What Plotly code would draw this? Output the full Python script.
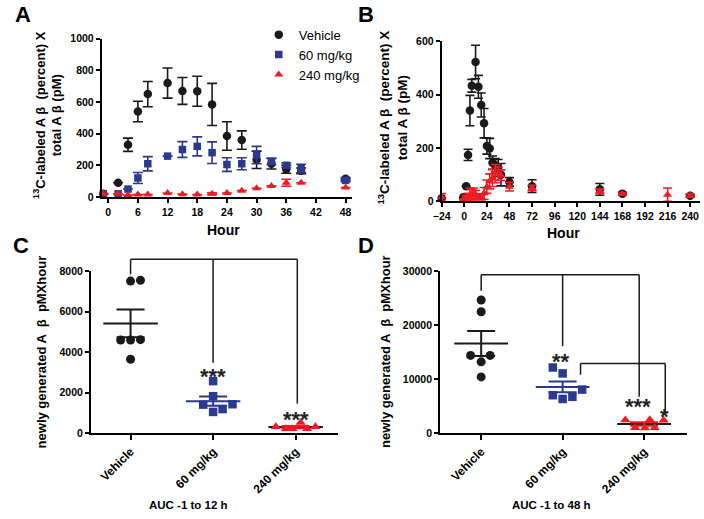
import numpy as np
import plotly.graph_objects as go

F = "Liberation Sans, Arial, sans-serif"
BLACK = "#1a1a1a"
BLUE = "#2b3990"
RED = "#ed1c24"
W, H = 704, 519

# ---------------- Panel A data ----------------
hours_a = [-1, 2, 4, 6, 8, 12, 15, 18, 21, 24, 27, 30, 33, 36, 39, 48]
veh_a = [20, 90, 330, 540, 650, 720, 670, 668, 585, 385, 360, 235, 210, 175, 165, 115]
veh_a_err = [None, None, 42, 65, 80, 95, 85, 95, 133, 90, 58, 55, 33, 25, 18, 8]
mg60_a = [20, 20, 50, 120, 210, 258, 300, 320, 280, 205, 210, 265, 225, 200, 180, 105]
mg60_a_err = [None, None, None, 35, 45, None, 50, 60, 68, 43, 38, 55, 20, 15, 27, 8]
mg240_a = [20, 20, 12, 15, 15, 25, 18, 15, 20, 25, 40, 55, 70, 90, 90, 60]
mg240_a_err = [None, None, None, None, None, None, None, None, 6, None, None, None, None, 22, None, None]

# ---------------- Panel B data ----------------
hours_b_veh = [-24, -1, 2, 4, 6, 8, 12, 15, 18, 21, 24, 27, 30, 33, 36, 39, 48, 72, 144, 168, 240]
veh_b = [12, 15, 57, 174, 340, 433, 522, 429, 361, 293, 207, 198, 145, 135, 125, 100, 73, 57, 45, 29, 21]
veh_b_err = [None, None, None, 21, 57, 24, 63, 43, 45, 55, 30, 38, 25, 25, 32, 42, 16, 24, 22, 5, 4]
hours_b_240 = [-24, -1, 2, 4, 6, 8, 10, 12, 15, 18, 21, 24, 27, 30, 33, 36, 39, 48, 72, 144, 168, 216, 240]
mg240_b = [15, 8, 14, 18, 22, 25, 28, 26, 18, 15, 30, 55, 75, 88, 104, 104, 98, 55, 50, 38, 28, 25, 22]
mg240_b_err = [14, None, 8, 12, 28, 20, 22, 15, 10, 10, 22, 25, 28, 32, 34, 25, 20, 16, 10, 8, 5, 25, 6]

# ---------------- Panels C / D data ----------------
groups = ["Vehicle", "60 mg/kg", "240 mg/kg"]
c_veh = [7520, 7560, 4600, 4600, 4620, 3650]
c_60 = [2565, 1820, 1400, 1420, 1040, 1180]
c_240 = [300, 200, 200, 520, 200, 300]
d_veh = [24700, 22500, 14400, 14400, 13200, 10400]
d_60 = [12150, 11050, 8050, 7000, 6300, 6700]
d_240 = [2400, 2450, 2350, 950, 900, 950]

# horizontal scatter (jitter) offsets of the dots, styling only
c_jit = [[0, 0.12, -0.12, 0, 0.12, 0],
         [0, 0, -0.12, 0.235, 0, 0.115],
         [-0.24, -0.12, -0.04, 0.06, 0.14, 0.24]]
d_jit = [[0, 0, -0.13, 0.11, 0, 0],
         [-0.12, 0, 0.24, -0.12, 0, 0.12],
         [-0.23, 0.07, 0.24, -0.11, 0.01, 0.13]]

# ---------------- layout geometry (pixels) ----------------
dom = {
    "A": dict(x=(94, 347), y=(33.5, 195.5), xr=(-1.3, 49.2), yr=(0, 1000)),
    "B": dict(x=(438.3, 700), y=(36, 200), xr=(-24, 250.5), yr=(0, 600)),
    "C": dict(x=(83, 333), y=(271.7, 437), xr=(-0.48, 2.51), yr=(0, 8000)),
    "D": dict(x=(436.7, 686.7), y=(271.7, 437), xr=(-0.504, 2.526), yr=(0, 30000)),
}


def xdom(p):
    return [dom[p]["x"][0] / W, dom[p]["x"][1] / W]


def ydom(p):
    return [1 - dom[p]["y"][1] / H, 1 - dom[p]["y"][0] / H]


def data2paper(p, xv, yv):
    d = dom[p]
    fx = (xv - d["xr"][0]) / (d["xr"][1] - d["xr"][0])
    fy = (yv - d["yr"][0]) / (d["yr"][1] - d["yr"][0])
    X0, X1 = xdom(p)
    Y0, Y1 = ydom(p)
    return X0 + fx * (X1 - X0), Y0 + fy * (Y1 - Y0)


fig = go.Figure()


def err(arr, color, w):
    return dict(type="data", array=arr, visible=True, color=color, thickness=1.6, width=w)


# ---- Panel A ----
fig.add_trace(go.Scatter(x=hours_a, y=veh_a, mode="markers", name="Vehicle",
                         marker=dict(symbol="circle", size=8.5, color=BLACK),
                         error_y=err(veh_a_err, BLACK, 5), cliponaxis=False,
                         xaxis="x", yaxis="y"))
fig.add_trace(go.Scatter(x=hours_a, y=mg60_a, mode="markers", name="60 mg/kg",
                         marker=dict(symbol="square", size=7.5, color=BLUE),
                         error_y=err(mg60_a_err, BLUE, 5), cliponaxis=False,
                         xaxis="x", yaxis="y"))
fig.add_trace(go.Scatter(x=hours_a, y=mg240_a, mode="markers", name="240 mg/kg",
                         marker=dict(symbol="triangle-up", size=8, color=RED),
                         error_y=err(mg240_a_err, RED, 5), cliponaxis=False,
                         xaxis="x", yaxis="y"))

# ---- Panel B ----
fig.add_trace(go.Scatter(x=hours_b_veh, y=veh_b, mode="markers", showlegend=False,
                         marker=dict(symbol="circle", size=8.5, color=BLACK),
                         error_y=err(veh_b_err, BLACK, 4.5), cliponaxis=False,
                         xaxis="x2", yaxis="y2"))
fig.add_trace(go.Scatter(x=hours_b_240, y=mg240_b, mode="markers", showlegend=False,
                         marker=dict(symbol="triangle-up", size=8, color=RED),
                         error_y=err(mg240_b_err, RED, 4.5), cliponaxis=False,
                         xaxis="x2", yaxis="y2"))

# ---- Panels C and D ----
syms = ["circle", "square", "triangle-up"]
cols = [BLACK, BLUE, RED]
mean_cols = [BLACK, BLUE, BLACK]
sizes = [9, 8.5, 9]
for p, ax, vals_list, jit in [("C", "3", [c_veh, c_60, c_240], c_jit),
                              ("D", "4", [d_veh, d_60, d_240], d_jit)]:
    for i, vals in enumerate(vals_list):
        v = np.array(vals, dtype=float)
        m = v.mean()
        sem = v.std(ddof=1) / np.sqrt(len(v))
        fig.add_trace(go.Scatter(x=[i - 0.33, i + 0.33], y=[m, m], mode="lines",
                                 line=dict(color=mean_cols[i], width=2), showlegend=False,
                                 xaxis="x" + ax, yaxis="y" + ax))
        fig.add_trace(go.Scatter(x=[i + j for j in jit[i]], y=vals, mode="markers",
                                 marker=dict(symbol=syms[i], size=sizes[i], color=cols[i]),
                                 showlegend=False, cliponaxis=False,
                                 xaxis="x" + ax, yaxis="y" + ax))
        fig.add_trace(go.Scatter(x=[i], y=[m], mode="markers",
                                 marker=dict(size=1, opacity=0), showlegend=False,
                                 error_y=dict(type="data", array=[sem], visible=True,
                                              color=cols[i], thickness=2, width=14),
                                 cliponaxis=False, xaxis="x" + ax, yaxis="y" + ax))

# ---------------- axes ----------------
tickfont = dict(family=F, size=10.5, color="black", weight="bold")
cat_tickfont = dict(family=F, size=12, color="black", weight="bold")


def axis(p, which, **kw):
    d = dict(showline=True, linewidth=2, linecolor="black", ticks="outside", ticklen=4,
             tickwidth=1.5, tickcolor="black", showgrid=False, zeroline=False,
             tickfont=tickfont, fixedrange=True, tickformat="d")
    if which == "x":
        d.update(domain=xdom(p), range=list(dom[p]["xr"]))
    else:
        d.update(domain=ydom(p), range=list(dom[p]["yr"]))
    d.update(kw)
    return d


layout = dict(
    width=W, height=H, margin=dict(l=0, r=0, t=0, b=0),
    paper_bgcolor="white", plot_bgcolor="white",
    font=dict(family=F, color="black"),
    xaxis=axis("A", "x", anchor="y", tickvals=list(range(0, 49, 6))),
    yaxis=axis("A", "y", anchor="x", tickvals=list(range(0, 1001, 200))),
    xaxis2=axis("B", "x", anchor="y2", tickvals=list(range(-24, 241, 24))),
    yaxis2=axis("B", "y", anchor="x2", tickvals=[0, 200, 400, 600]),
    xaxis3=axis("C", "x", anchor="y3", tickvals=[0, 1, 2], ticktext=groups, tickangle=-45,
                tickfont=cat_tickfont, ticklen=5),
    yaxis3=axis("C", "y", anchor="x3", tickvals=list(range(0, 8001, 2000))),
    xaxis4=axis("D", "x", anchor="y4", tickvals=[0, 1, 2], ticktext=groups, tickangle=-45,
                tickfont=cat_tickfont, ticklen=5),
    yaxis4=axis("D", "y", anchor="x4", tickvals=[0, 10000, 20000, 30000]),
    legend=dict(x=253 / W, y=1 - 14 / H, xanchor="left", yanchor="top",
                font=dict(family=F, size=13, color="black"), bgcolor="rgba(0,0,0,0)",
                tracegroupgap=0),
    showlegend=True,
)
fig.update_layout(**layout)

# ---------------- annotations (text) ----------------
ann = []


def txt(x, y, s, size, bold=True, angle=0, **kw):
    a = dict(x=x / W, y=1 - y / H, xref="paper", yref="paper", text=s, showarrow=False,
             textangle=angle, xanchor="center", yanchor="middle",
             font=dict(family=F, size=size, color="black", weight="bold" if bold else "normal"))
    a.update(kw)
    ann.append(a)


for letter, (lx, ly) in {"A": (14, 9), "B": (362, 9), "C": (12, 245), "D": (362, 245)}.items():
    txt(lx, ly, letter, 22)

ytitle_ab = "<sup>13</sup>C-labeled A β  (percent) X<br>total A β (pM)"
txt(39, 112, ytitle_ab, 13, angle=-90)
txt(388, 114, ytitle_ab, 13.5, angle=-90)
txt(217, 229, "Hour", 14)
txt(562, 232, "Hour", 14)
ytitle_cd = "newly generated A  β  pMXhour"
txt(33, 354, ytitle_cd, 13, angle=-90)
txt(382, 354, ytitle_cd, 13, angle=-90)
txt(182, 511, "AUC -1 to 12 h", 11.5)
txt(550, 511, "AUC -1 to 48 h", 11.5)

# significance stars (x in category units, y in data units at glyph centre)
stars = [("C", 1, 3100, "***"), ("C", 2, 968, "***"),
         ("D", 0.98, 14340, "**"), ("D", 1.92, 5990, "***"), ("D", 2.25, 4175, "*")]
for p, sx, sy, s in stars:
    X, Y = data2paper(p, sx, sy)
    ann.append(dict(x=X, y=Y, xref="paper", yref="paper", text=s, showarrow=False,
                    xanchor="center", yanchor="middle", yshift=-6,
                    font=dict(family=F, size=22, color="#222222", weight="bold")))

fig.update_layout(annotations=ann)

# ---------------- comparison brackets ----------------
brackets = [
    # panel, top value, [(x category position, leg bottom value), ...]
    ("C", 8600, [(0, 7850), (1, 3480), (2.02, 1450)]),
    ("D", 29400, [(0, 26400), (1, 16100), (1.94, 6700)]),
    ("D", 12900, [(1.22, 10800), (2.26, 3700)]),
]
shapes = []
for p, top, legs in brackets:
    xs = [l[0] for l in legs]
    X0, Yt = data2paper(p, min(xs), top)
    X1, _ = data2paper(p, max(xs), top)
    shapes.append(dict(type="line", xref="paper", yref="paper", x0=X0, x1=X1, y0=Yt, y1=Yt,
                       line=dict(color=BLACK, width=1.5)))
    for lx, lb in legs:
        X, Yb = data2paper(p, lx, lb)
        shapes.append(dict(type="line", xref="paper", yref="paper", x0=X, x1=X, y0=Yt, y1=Yb,
                           line=dict(color=BLACK, width=1.5)))
fig.update_layout(shapes=shapes)

fig.write_html("out.html", config={"displayModeBar": False},
               post_script="document.body.style.margin='0px';")
